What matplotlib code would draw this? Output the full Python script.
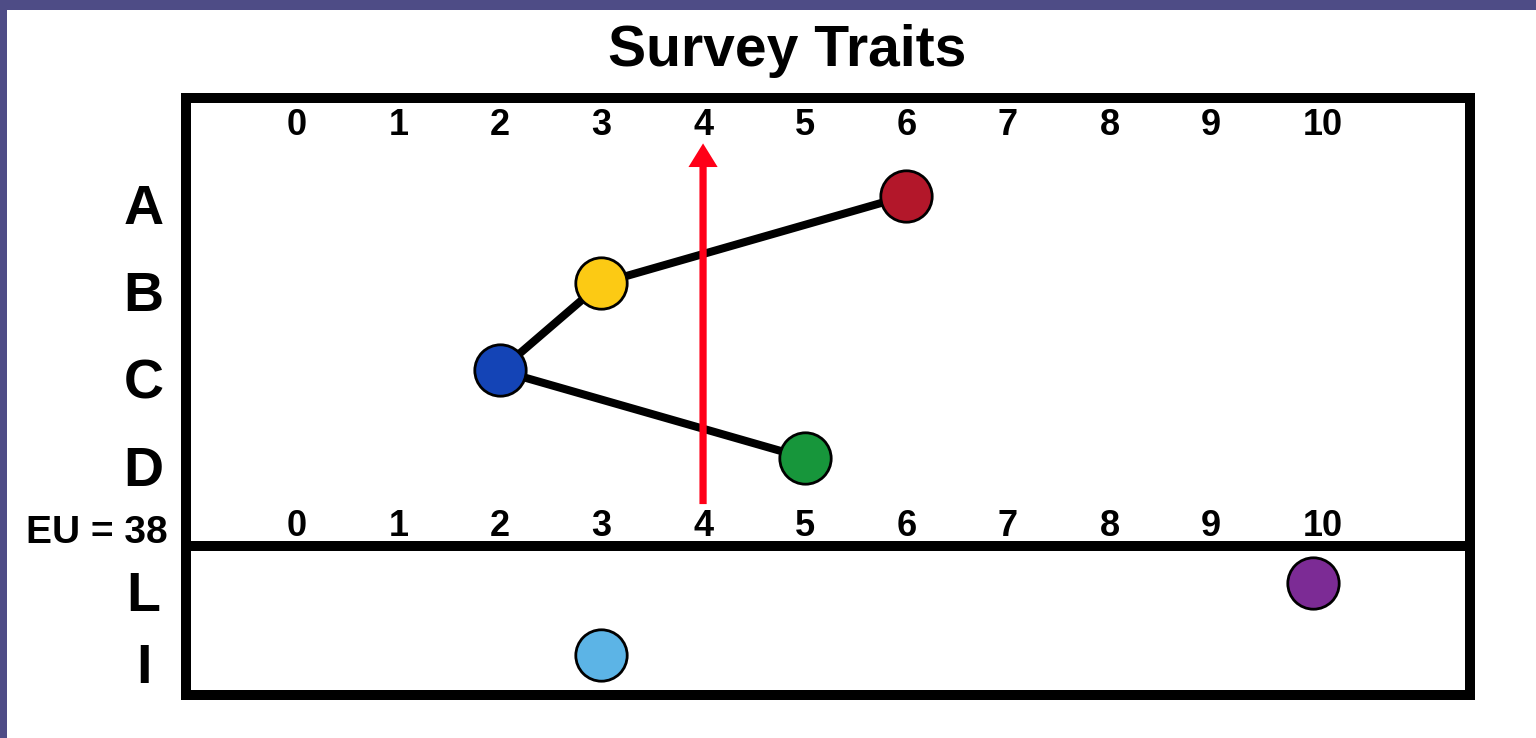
import matplotlib.pyplot as plt
from matplotlib.patches import Rectangle
from matplotlib.transforms import blended_transform_factory, offset_copy

plt.rcParams["font.family"] = ["Liberation Sans", "DejaVu Sans"]
plt.rcParams["font.weight"] = "bold"

# --- data ---
title = "Survey Traits"
ticks = list(range(0, 11))
upper_rows = ["A", "B", "C", "D"]
upper_vals = [6, 3, 2, 5]
upper_colors = ["#B3172A", "#FCCA14", "#1444B6", "#17963B"]
lower_rows = ["L", "I"]
lower_vals = [10, 3]
lower_colors = ["#7C2B95", "#5CB4E6"]
eu_label = "EU = 38"
marker_x = 4

W, H = 1536, 738
fig = plt.figure(figsize=(W / 100, H / 100), dpi=100, facecolor="#4E4C86")
fig.add_artist(Rectangle((7 / W, 0), 1, 1 - 10 / H, transform=fig.transFigure,
                         facecolor="white", edgecolor="none", zorder=0))

left, right = 186 / W, 1470 / W
y_top, y_mid, y_bot = 1 - 98 / H, 1 - 546 / H, 1 - 695 / H
ax1 = fig.add_axes([left, y_mid, right - left, y_top - y_mid])
ax2 = fig.add_axes([left, y_bot, right - left, y_mid - y_bot])

xlim = (-1.09, 11.55)
for ax in (ax1, ax2):
    ax.set_xlim(*xlim)
    ax.set_xticks([])
    ax.set_yticks([])
    ax.set_facecolor("none")
    for s in ax.spines.values():
        s.set_linewidth(7.2)
        s.set_color("black")
        s.set_capstyle("projecting")

ax1.set_ylim(-0.01, 5.12)
ax2.set_ylim(0.444, 2.514)

ypos_up = list(range(len(upper_rows), 0, -1))
ypos_lo = list(range(len(lower_rows), 0, -1))

# connecting line + dots
ax1.plot(upper_vals, ypos_up, color="black", lw=5.8, zorder=2, solid_capstyle="round")
for v, y, c in zip(upper_vals, ypos_up, upper_colors):
    ax1.plot(v, y, "o", ms=37, mfc=c, mec="black", mew=2, zorder=4)
for v, y, c in zip(lower_vals, ypos_lo, lower_colors):
    ax2.plot(v, y, "o", ms=37, mfc=c, mec="black", mew=2, zorder=4)

# red arrow
ax1.annotate("", xy=(marker_x, 4.60), xytext=(marker_x, 0.47),
             arrowprops=dict(arrowstyle="simple,tail_width=5.2,head_width=21,head_length=17",
                             facecolor="#FF0018", edgecolor="none", lw=0,
                             mutation_scale=1, shrinkA=0, shrinkB=0), zorder=3)

# tick numbers (top and above the divider)
for ax, yv in ((ax1, 4.81), (ax1, 0.215)):
    tr = offset_copy(ax.transData, fig=fig, x=-10, y=0, units="dots")
    for t in ticks:
        ax.text(t, yv, str(t), transform=tr, ha="left", va="center",
                fontsize=26, fontweight="bold")

# row labels
for ax, rows, ys in ((ax1, upper_rows, ypos_up), (ax2, lower_rows, ypos_lo)):
    tr = blended_transform_factory(ax.transAxes, ax.transData)
    tr = offset_copy(tr, fig=fig, x=0, y=-14, units="dots")
    for r, y in zip(rows, ys):
        ax.text(-0.033, y, r, transform=tr, ha="center", va="center",
                fontsize=40, fontweight="bold")

fig.text(168 / W, 1 - 533 / H, eu_label, ha="right", va="center",
         fontsize=28, fontweight="bold")
fig.text(787 / W, 1 - 66 / H, title, ha="center", va="baseline",
         fontsize=41, fontweight="bold")

fig.savefig("out.png", dpi=100, facecolor=fig.get_facecolor())
